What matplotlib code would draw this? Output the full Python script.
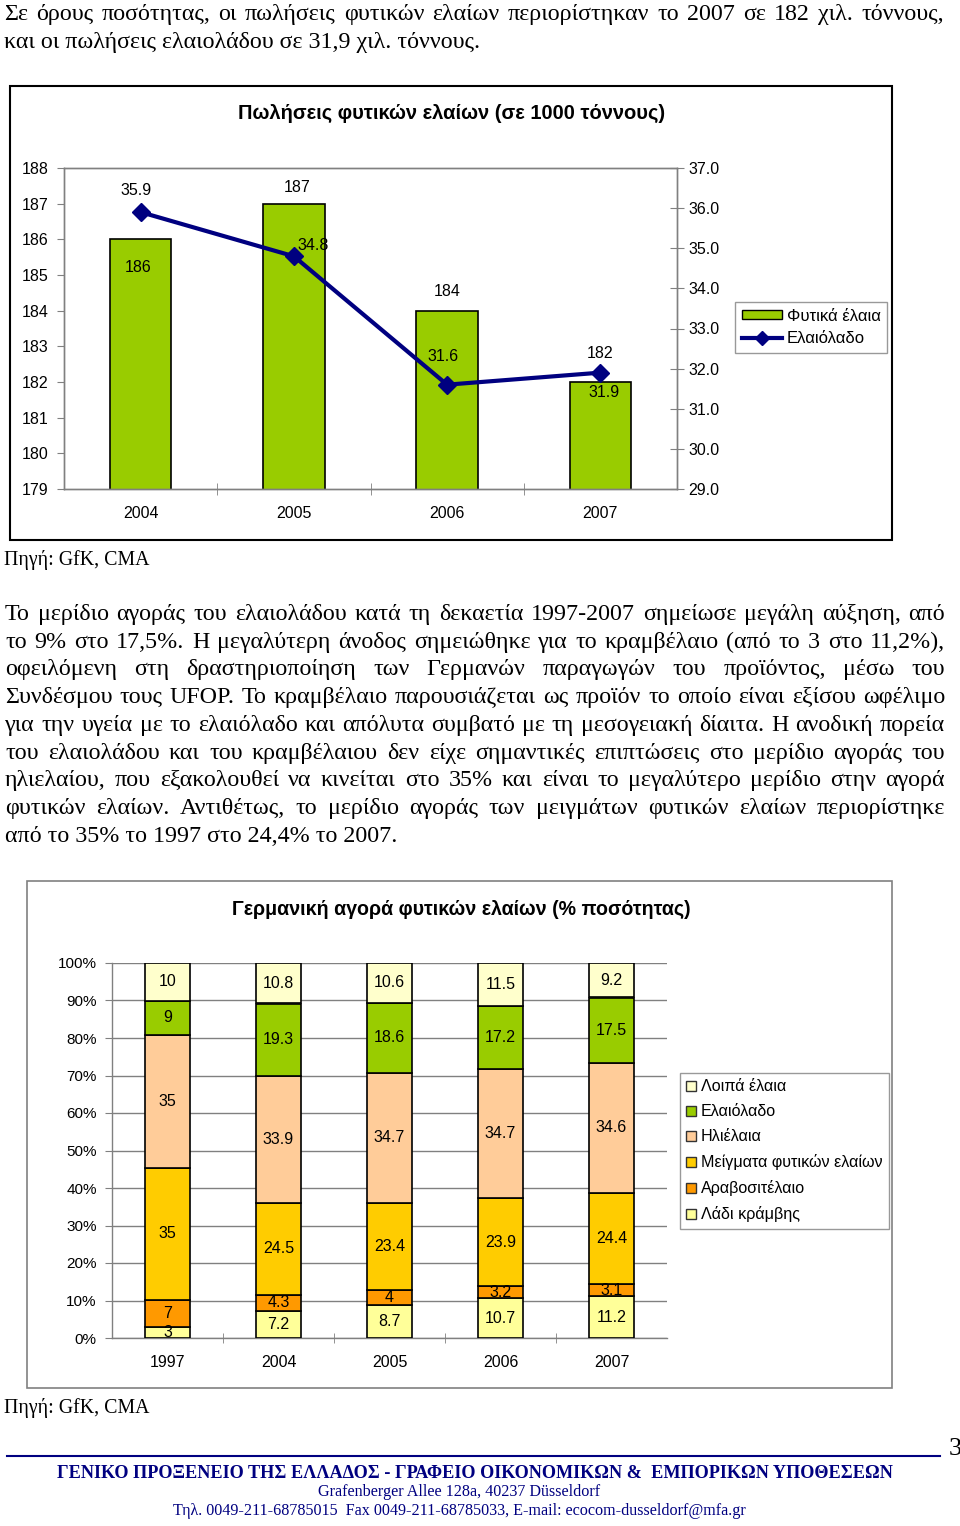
import matplotlib
matplotlib.use('Agg')
import matplotlib.pyplot as plt
from matplotlib.patches import Rectangle, Patch
from matplotlib.lines import Line2D
import numpy as np

# ---------------- data ----------------
years1 = ['2004', '2005', '2006', '2007']
plant_oils = [186, 187, 184, 182]          # 1000 t (left axis)
olive_oil_sales = [35.9, 34.8, 31.6, 31.9]  # 1000 t (right axis)
left_ticks = [179, 180, 181, 182, 183, 184, 185, 186, 187, 188]
right_ticks = [29, 30, 31, 32, 33, 34, 35, 36, 37]

years2 = ['1997', '2004', '2005', '2006', '2007']
series_names = ['Λάδι κράμβης', 'Αραβοσιτέλαιο', 'Μείγματα φυτικών ελαίων',
                'Ηλιέλαια', 'Ελαιόλαδο', 'Λοιπά έλαια']
rapeseed = [3, 7.2, 8.7, 10.7, 11.2]
corn = [7, 4.3, 4, 3.2, 3.1]
blends = [35, 24.5, 23.4, 23.9, 24.4]
sunflower = [35, 33.9, 34.7, 34.7, 34.6]
olive_share = [9, 19.3, 18.6, 17.2, 17.5]
other = [10, 10.8, 10.6, 11.5, 9.2]
pct_ticks = [0, 10, 20, 30, 40, 50, 60, 70, 80, 90, 100]

# ---------------- styling ----------------
W, H = 960, 1526
SERIF = 'Liberation Serif'
SANS = 'Liberation Sans'
GRAY = '#808080'
NAVY = '#000080'
colors2 = ['#FFFF99', '#FF9900', '#FFCC00', '#FFCC99', '#99CC00', '#FFFFCC']

fig = plt.figure(figsize=(W / 100, H / 100), dpi=100)
renderer = fig.canvas.get_renderer()


def fx(x):
    return x / W


def fy(y):
    return 1 - y / H


def measure(s, size, family=SERIF, weight='normal'):
    t = fig.text(0, 0, s, fontsize=size, family=family, weight=weight)
    w = t.get_window_extent(renderer).width
    t.remove()
    return w


def fit_text(s, x0, x1, yb, family=SERIF, weight='normal', color='black', ha='left'):
    size = 10 * (x1 - x0) / measure(s, 10, family, weight)
    x = x0 if ha == 'left' else (x0 + x1) / 2
    fig.text(fx(x), fy(yb), s, fontsize=size, family=family, weight=weight,
             color=color, ha=ha, va='baseline')
    return size


def justify(s, x0, x1, yb, size, family=SERIF):
    words = s.split()
    widths = [measure(w_, size, family) for w_ in words]
    gap = (x1 - x0 - sum(widths)) / (len(words) - 1)
    x = x0
    for w_, wd in zip(words, widths):
        fig.text(fx(x), fy(yb), w_, fontsize=size, family=family, va='baseline')
        x += wd + gap


# ---------------- top text ----------------
top1 = 'Σε όρους ποσότητας, οι πωλήσεις φυτικών ελαίων περιορίστηκαν το 2007 σε 182 χιλ. τόννους,'
top2 = 'και οι πωλήσεις ελαιολάδου σε 31,9 χιλ. τόννους.'
para = [
    'Το μερίδιο αγοράς του ελαιολάδου κατά τη δεκαετία 1997-2007 σημείωσε μεγάλη αύξηση, από',
    'το 9% στο 17,5%. Η μεγαλύτερη άνοδος σημειώθηκε για το κραμβέλαιο (από το 3 στο 11,2%),',
    'οφειλόμενη στη δραστηριοποίηση των Γερμανών παραγωγών του προϊόντος, μέσω του',
    'Συνδέσμου τους UFOP. Το κραμβέλαιο παρουσιάζεται ως προϊόν το οποίο είναι εξίσου ωφέλιμο',
    'για την υγεία με το ελαιόλαδο και απόλυτα συμβατό με τη μεσογειακή δίαιτα. Η ανοδική πορεία',
    'του ελαιολάδου και του κραμβέλαιου δεν είχε σημαντικές επιπτώσεις στο μερίδιο αγοράς του',
    'ηλιελαίου, που εξακολουθεί να κινείται στο 35% και είναι το μεγαλύτερο μερίδιο στην αγορά',
    'φυτικών ελαίων. Αντιθέτως, το μερίδιο αγοράς των μειγμάτων φυτικών ελαίων περιορίστηκε',
    'από το 35% το 1997 στο 24,4% το 2007.',
]

body_size = 10 * (396 - 5) / measure(para[-1], 10)
justify(top1, 4, 944, 20, body_size)
fig.text(fx(4), fy(48), top2, fontsize=body_size, family=SERIF, va='baseline')
for i, line in enumerate(para):
    yb = 620 + i * 27.7
    if i < len(para) - 1:
        justify(line, 5, 945, yb, body_size)
    else:
        fig.text(fx(5), fy(yb), line, fontsize=body_size, family=SERIF, va='baseline')

fit_text('Πηγή: GfK, CMA', 4, 149, 565)
fit_text('Πηγή: GfK, CMA', 4, 149, 1413)

# ---------------- chart frames ----------------
fig.add_artist(Rectangle((fx(10), fy(540)), (892 - 10) / W, (540 - 86) / H,
                         transform=fig.transFigure, facecolor='white',
                         edgecolor='black', lw=1.5, zorder=0))
fig.add_artist(Rectangle((fx(27), fy(1388)), (892 - 27) / W, (1388 - 881) / H,
                         transform=fig.transFigure, facecolor='white',
                         edgecolor=GRAY, lw=1.2, zorder=0))

# ---------------- chart 1 ----------------
ax1 = fig.add_axes([fx(64), fy(489), (677 - 64) / W, (489 - 168) / H])
x1 = np.arange(len(years1))
ax1.bar(x1, plant_oils, width=0.4, color='#99CC00', edgecolor='black', lw=1.2, zorder=2)
ax1.set_ylim(179, 188)
ax1.set_xlim(-0.5, len(years1) - 0.5)
ax1.set_yticks(left_ticks)
ax1.set_yticklabels([str(v) for v in left_ticks], family=SANS, fontsize=11.5)
ax1.tick_params(axis='y', direction='out', length=5, color=GRAY, pad=6)
ax1.set_xticks(x1)
ax1.set_xticklabels(years1, family=SANS, fontsize=11.5)
ax1.tick_params(axis='x', which='major', length=0, pad=12)
ax1.set_xticks(np.arange(0.5, len(years1) - 1), minor=True)
ax1.tick_params(axis='x', which='minor', direction='inout', length=8, color=GRAY)

ax1b = ax1.twinx()
ax1b.plot(x1, olive_oil_sales, color=NAVY, lw=3, marker='D', ms=9, zorder=3)
ax1b.set_ylim(29, 37)
ax1b.set_yticks(right_ticks)
ax1b.set_yticklabels(['%.1f' % v for v in right_ticks], family=SANS, fontsize=11.5)
ax1b.tick_params(axis='y', direction='inout', length=10, color=GRAY, pad=3)
for a in (ax1, ax1b):
    for sp in a.spines.values():
        sp.set_color(GRAY)
        sp.set_linewidth(1)

bar_label_off = [(-3, -28), (3, 16), (0, 19), (0, 28)]
for i, v in enumerate(plant_oils):
    ax1.annotate(str(v), (x1[i], v), xytext=bar_label_off[i], textcoords='offset pixels',
                 ha='center', va='center', family=SANS, fontsize=11.5, zorder=5)
line_label_off = [(-5, 22), (19, 11), (-4, 28), (4, -20)]
for i, v in enumerate(olive_oil_sales):
    ax1b.annotate('%.1f' % v, (x1[i], v), xytext=line_label_off[i], textcoords='offset pixels',
                  ha='center', va='center', family=SANS, fontsize=11.5, zorder=5)

fit_text('Πωλήσεις φυτικών ελαίων (σε 1000 τόννους)', 238, 666, 119,
         family=SANS, weight='bold', ha='center')

h1 = [Patch(facecolor='#99CC00', edgecolor='black', lw=1),
      Line2D([], [], color=NAVY, lw=3, marker='D', ms=7)]
leg1 = fig.legend(h1, ['Φυτικά έλαια', 'Ελαιόλαδο'], loc='upper left',
                  bbox_to_anchor=(fx(735), fy(302)), borderaxespad=0,
                  prop={'family': SANS, 'size': 12}, frameon=True, fancybox=False,
                  edgecolor=GRAY, handlelength=2.4, handleheight=0.45, handletextpad=0.3,
                  labelspacing=0.45, borderpad=0.4)
leg1.get_frame().set_linewidth(1)

# ---------------- chart 2 ----------------
ax2 = fig.add_axes([fx(112), fy(1338), (667 - 112) / W, (1338 - 963) / H])
series = [rapeseed, corn, blends, sunflower, olive_share, other]
raw = np.array(series, dtype=float)
totals = raw.sum(axis=0)
shares = raw / totals * 100
x2 = np.arange(len(years2))
bottom = np.zeros(len(years2))
for k, name in enumerate(series_names):
    ax2.bar(x2, shares[k], bottom=bottom, width=0.4, color=colors2[k],
            edgecolor='black', lw=1.2, label=name, zorder=3)
    for i in range(len(years2)):
        v = series[k][i]
        ax2.text(x2[i], bottom[i] + shares[k][i] / 2, ('%g' % v), ha='center', va='center',
                 family=SANS, fontsize=11.5, zorder=4)
    bottom += shares[k]

ax2.set_ylim(0, 100)
ax2.set_xlim(-0.5, len(years2) - 0.5)
ax2.set_yticks(pct_ticks)
ax2.set_yticklabels(['%d%%' % v for v in pct_ticks], family=SANS, fontsize=11)
ax2.tick_params(axis='y', direction='out', length=5, color=GRAY, pad=6)
ax2.yaxis.grid(True, color=GRAY, lw=1, zorder=0)
ax2.set_axisbelow(True)
ax2.set_xticks(x2)
ax2.set_xticklabels(years2, family=SANS, fontsize=11.5)
ax2.tick_params(axis='x', which='major', length=0, pad=12)
ax2.set_xticks(np.arange(0.5, len(years2) - 1), minor=True)
ax2.tick_params(axis='x', which='minor', direction='inout', length=7, color=GRAY)
ax2.spines['top'].set_visible(False)
ax2.spines['right'].set_visible(False)
for s in ('left', 'bottom'):
    ax2.spines[s].set_color(GRAY)
    ax2.spines[s].set_linewidth(1)

fit_text('Γερμανική αγορά φυτικών ελαίων (% ποσότητας)', 233, 690, 915,
         family=SANS, weight='bold', ha='center')

h2 = [Patch(facecolor=colors2[k], edgecolor='#333333', lw=1) for k in range(len(series_names))][::-1]
leg2 = fig.legend(h2, series_names[::-1], loc='upper left',
                  bbox_to_anchor=(fx(680), fy(1073)), borderaxespad=0,
                  prop={'family': SANS, 'size': 11.6}, frameon=True, fancybox=False,
                  edgecolor=GRAY, handlelength=0.6, handleheight=0.6, handletextpad=0.3,
                  labelspacing=0.62, borderpad=0.4)
leg2.get_frame().set_linewidth(1)

# ---------------- footer ----------------
fig.add_artist(Line2D([fx(7), fx(940)], [fy(1456), fy(1456)], transform=fig.transFigure,
                      color=NAVY, lw=1.5))
fig.text(fx(949), fy(1455), '3', fontsize=body_size * 1.1, family=SERIF, va='baseline')
fit_text('ΓΕΝΙΚΟ ΠΡΟΞΕΝΕΙΟ ΤΗΣ ΕΛΛΑΔΟΣ - ΓΡΑΦΕΙΟ ΟΙΚΟΝΟΜΙΚΩΝ &  ΕΜΠΟΡΙΚΩΝ ΥΠΟΘΕΣΕΩΝ',
         58, 892, 1478, family=SERIF, weight='bold', color=NAVY, ha='center')
fit_text('Grafenberger Allee 128a, 40237 Düsseldorf', 318, 600, 1496,
         family=SERIF, color=NAVY, ha='center')
fit_text('Τηλ. 0049-211-68785015  Fax 0049-211-68785033, E-mail: ecocom-dusseldorf@mfa.gr',
         173, 745, 1515, family=SERIF, color=NAVY, ha='center')

fig.savefig('out.png', dpi=100)
